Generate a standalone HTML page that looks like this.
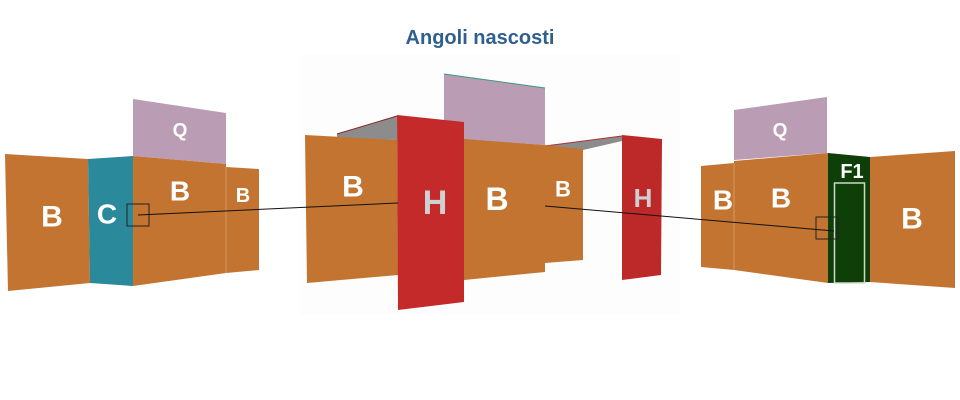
<!DOCTYPE html>
<html><head><meta charset="utf-8"><style>
html,body{margin:0;padding:0;background:#fff;width:960px;height:400px;overflow:hidden}
svg text{font-family:"Liberation Sans",sans-serif;font-weight:bold;text-anchor:middle;dominant-baseline:central}
</style></head><body>
<svg width="960" height="400" viewBox="0 0 960 400" xmlns="http://www.w3.org/2000/svg">
<rect x="300" y="55" width="380" height="260" fill="#fdfdfd"/>
<text x="480" y="38" fill="#2e5f8e" font-size="20">Angoli nascosti</text>

<!-- left group -->
<polygon points="5,154 88,159 90,283 8,291" fill="#c27430"/>
<polygon points="88,159 133,156 133,286 90,283" fill="#2a8a9c"/>
<polygon points="133,99 226,113 226,164 133,156" fill="#bb9cb5"/>
<polygon points="133,156 226,164 226,273 133,286" fill="#c27430"/>
<polygon points="226,167 259,169 259,270 226,273" fill="#c27430"/>
<line x1="226" y1="167" x2="226" y2="273" stroke="#d99a60" stroke-width="1"/>
<text x="52" y="217" fill="#fff" font-size="30">B</text>
<text x="107" y="214" fill="#fff" font-size="28">C</text>
<text x="180" y="131" fill="#fff" font-size="19">Q</text>
<text x="180" y="191" fill="#fff" font-size="28">B</text>
<text x="243" y="196" fill="#fff" font-size="20">B</text>
<rect x="127" y="204" width="22" height="22" fill="none" stroke="#222" stroke-width="1"/>

<!-- center group -->
<polygon points="337,134 397,116 397,140 337,138" fill="#8c8c8c"/>
<line x1="337" y1="134" x2="397" y2="116" stroke="#8a2a2a" stroke-width="1"/>
<polygon points="305,135 397,140 398,275 307,283" fill="#c27430"/>
<polygon points="545,146 622,136 622,141 583,150" fill="#8c8c8c"/>
<line x1="545" y1="146" x2="622" y2="136" stroke="#a33" stroke-width="1"/>
<polygon points="444,74 545,88 545,145 444,138" fill="#bb9cb5"/>
<line x1="444" y1="74" x2="545" y2="88" stroke="#3a9a7a" stroke-width="1"/>
<polygon points="464,139 545,145 545,272 464,280" fill="#c27430"/>
<polygon points="545,145 583,149 583,260 545,263" fill="#c27430"/>
<polygon points="397,115 464,122 464,302 398,310" fill="#c42a2a"/>
<polygon points="622,135 662,139 661,275 622,280" fill="#bd2828"/>
<text x="353" y="187" fill="#fff" font-size="30">B</text>
<text x="435" y="203" fill="#d0d0d0" font-size="34">H</text>
<text x="497" y="199" fill="#fff" font-size="32">B</text>
<text x="563" y="189" fill="#fff" font-size="22">B</text>
<text x="643" y="198" fill="#d0d0d0" font-size="26">H</text>

<!-- right group -->
<polygon points="734,110 827,97 827,153 734,160" fill="#bb9cb5"/>
<polygon points="701,166 734,163 734,270 701,267" fill="#c27430"/>
<polygon points="734,161 828,153 828,283 734,270" fill="#c27430"/>
<line x1="734" y1="163" x2="734" y2="270" stroke="#d99a60" stroke-width="1"/>
<polygon points="828,153 870,157 870,282 828,283" fill="#0f3f08"/>
<rect x="834.5" y="183" width="30" height="100" fill="none" stroke="#cfd8c8" stroke-width="1.5"/>
<polygon points="870,157 955,151 955,288 870,282" fill="#c27430"/>
<text x="723" y="200" fill="#fff" font-size="28">B</text>
<text x="781" y="198" fill="#fff" font-size="28">B</text>
<text x="852" y="172" fill="#fff" font-size="20">F1</text>
<text x="780" y="131" fill="#fff" font-size="19">Q</text>
<text x="912" y="219" fill="#fff" font-size="30">B</text>
<rect x="816" y="217" width="22" height="22" fill="none" stroke="#222" stroke-width="1"/>

<!-- connectors -->
<line x1="138" y1="215" x2="398" y2="203" stroke="#111" stroke-width="1"/>
<line x1="545" y1="206" x2="834" y2="231" stroke="#111" stroke-width="1"/>
</svg>
</body></html>
